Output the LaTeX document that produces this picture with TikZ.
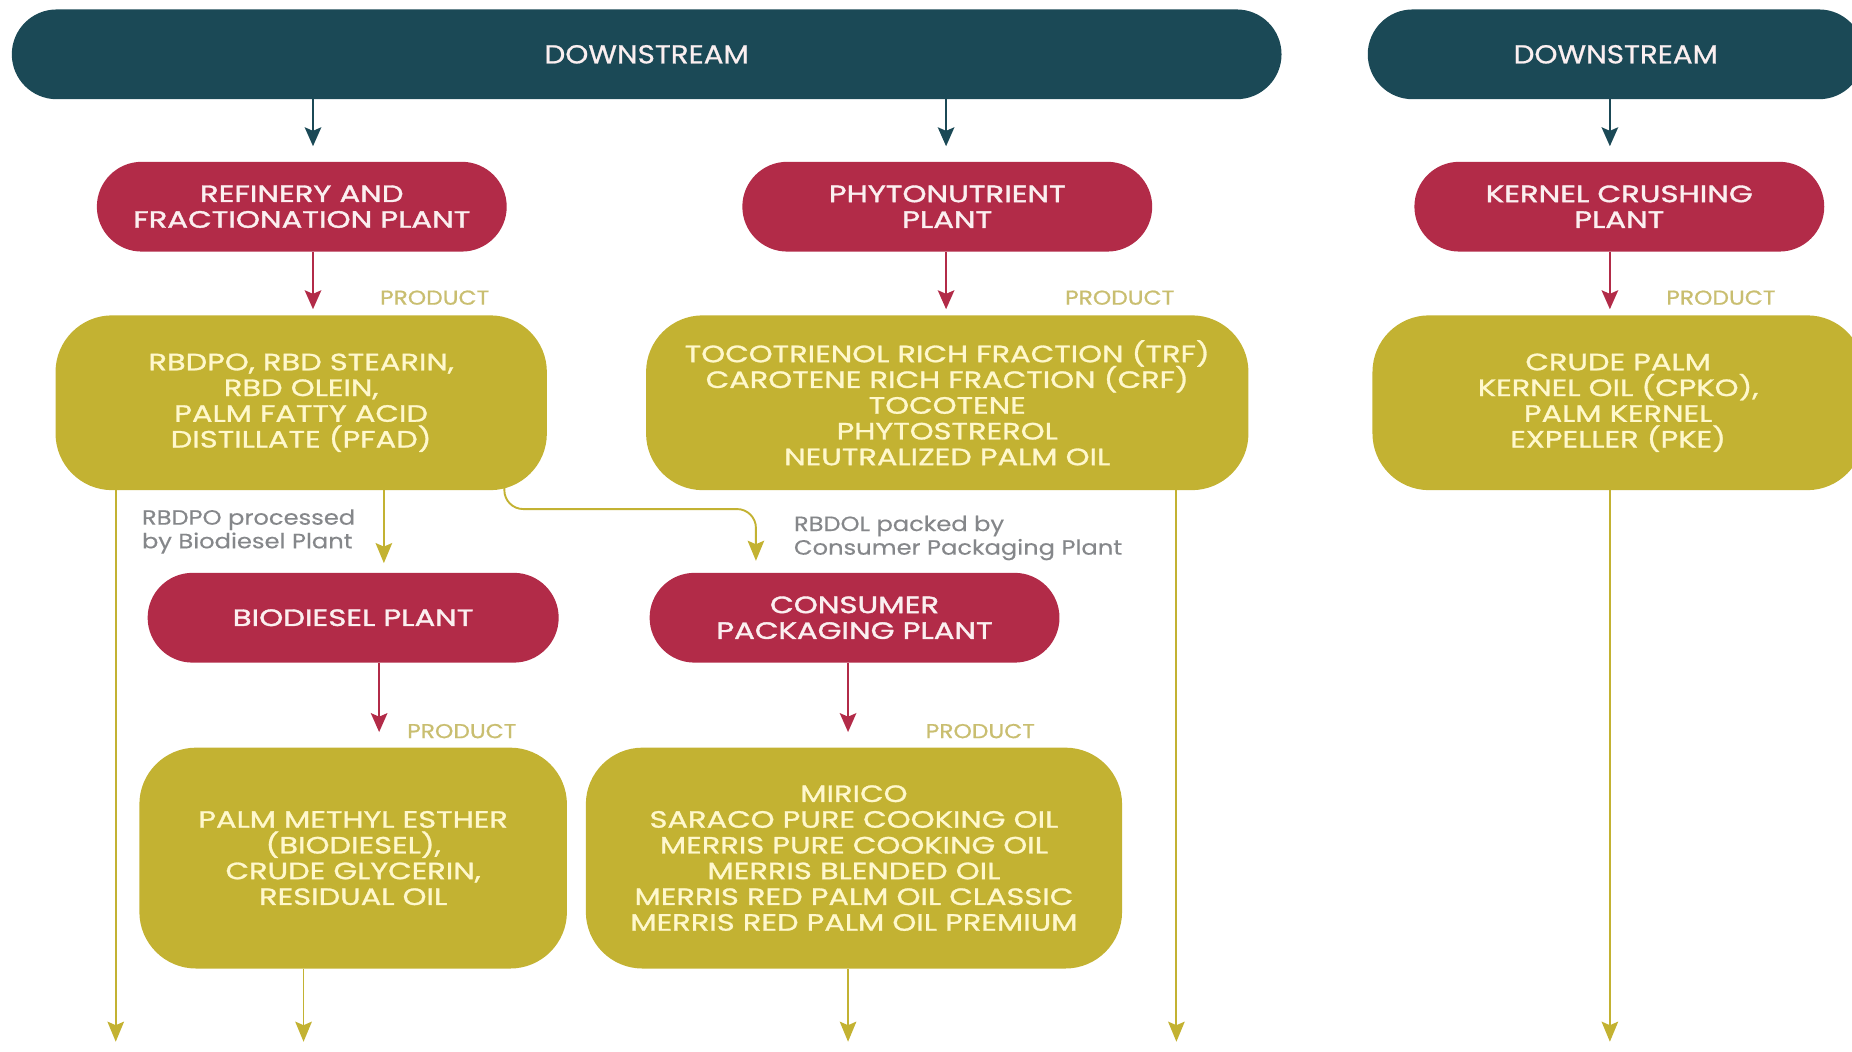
\documentclass[tikz,border=0pt]{standalone}
\usepackage{fontspec}
\setmainfont{Poppins}
\newfontfamily\fbar{Poppins}[FakeStretch=1.13,FakeBold=0.8]
\newfontfamily\fplant{Poppins}[FakeStretch=1.3,FakeBold=1.6]
\newfontfamily\fprod{Poppins}[FakeStretch=1.29,FakeBold=1.2]
\newfontfamily\flabel{Poppins}[FakeStretch=1.165,FakeBold=0.8]
\newfontfamily\fgray{Poppins}[FakeStretch=1.17,FakeBold=0.3]
\setlength{\lineskiplimit}{-100pt}
\usetikzlibrary{arrows.meta,backgrounds}
\definecolor{cTeal}{HTML}{1B4956}
\definecolor{cRed}{HTML}{B22B48}
\definecolor{cOlive}{HTML}{C3B232}
\definecolor{cProd}{HTML}{C9BE70}
\definecolor{cGray}{HTML}{85878A}
\definecolor{cCream}{HTML}{FFF8CC}
\definecolor{cPink}{HTML}{FBEFF0}
\begin{document}
\begin{tikzpicture}[x=1pt,y=-1pt,
  barbox/.style={fill=cTeal,rounded corners=38pt,minimum height=76pt,inner sep=0pt,
    text=cPink,font=\fbar\fontsize{22}{24}\selectfont},
  plantbox/.style={fill=cRed,rounded corners=38pt,minimum width=347pt,minimum height=76pt,
    inner sep=0pt,align=center,text=cPink,font=\fplant\fontsize{20}{21.8}\selectfont},
  prodbox/.style={fill=cOlive,rounded corners=48pt,inner sep=0pt,align=center,
    text=cCream,font=\fprod\fontsize{20}{21.8}\selectfont},
  prodlabel/.style={text=cProd,font=\flabel\fontsize{17}{19}\selectfont,inner sep=0pt},
  graylabel/.style={text=cGray,font=\fgray\fontsize{17.5}{20}\selectfont,align=left,inner sep=0pt,anchor=west},
  tarrow/.style={draw=cTeal,line width=1.8pt,-{Stealth[length=16pt,width=14pt,inset=3pt]}},
  rarrow/.style={draw=cRed,line width=1.8pt,-{Stealth[length=16pt,width=14pt,inset=3pt]}},
  yarrow/.style={draw=cOlive,line width=1.6pt,-{Stealth[length=17pt,width=14pt,inset=3pt]}},
]
\useasboundingbox (0,0) rectangle (1568,890);
\clip (0,0) rectangle (1568,890);

% top bars
\node[barbox,minimum width=1075pt] (bar1) at (547.5,46) {DOWNSTREAM};
\node[barbox,minimum width=420pt] (bar2) at (1368,46) {DOWNSTREAM};

% plants
\node[plantbox] (ref) at (255.5,175) {REFINERY AND\\FRACTIONATION PLANT};
\node[plantbox] (phy) at (802,175) {PHYTONUTRIENT\\PLANT};
\node[plantbox] (ker) at (1371,175) {KERNEL CRUSHING\\PLANT};

% products row 1
\node[prodbox,minimum width=416pt,minimum height=148pt] (p1) at (255,341)
  {RBDPO, RBD STEARIN,\\RBD OLEIN,\\PALM FATTY ACID\\DISTILLATE (PFAD)};
\node[prodbox,minimum width=510pt,minimum height=148pt] (p2) at (802,341)
  {TOCOTRIENOL RICH FRACTION (TRF)\\CAROTENE RICH FRACTION (CRF)\\TOCOTENE\\PHYTOSTREROL\\NEUTRALIZED PALM OIL};
\node[prodbox,minimum width=416pt,minimum height=148pt] (p3) at (1370,341)
  {CRUDE PALM\\KERNEL OIL (CPKO),\\PALM KERNEL\\EXPELLER (PKE)};

% plants row 2
\node[plantbox,minimum width=348pt] (bio) at (299,523) {BIODIESEL PLANT};
\node[plantbox] (con) at (723.5,523) {CONSUMER\\PACKAGING PLANT};

% products row 2
\node[prodbox,minimum width=362pt,minimum height=187pt] (p4) at (299,726.5)
  {PALM METHYL ESTHER\\(BIODIESEL),\\CRUDE GLYCERIN,\\RESIDUAL OIL};
\node[prodbox,minimum width=454pt,minimum height=187pt] (p5) at (723,726.5)
  {MIRICO\\SARACO PURE COOKING OIL\\MERRIS PURE COOKING OIL\\MERRIS BLENDED OIL\\MERRIS RED PALM OIL CLASSIC\\MERRIS RED PALM OIL PREMIUM};

% labels
\node[prodlabel] (l1) at (368,252) {PRODUCT};
\node[prodlabel] (l2) at (948,252) {PRODUCT};
\node[prodlabel] (l3) at (1457,252) {PRODUCT};
\node[prodlabel] (l4) at (391,619) {PRODUCT};
\node[prodlabel] (l5) at (830,619) {PRODUCT};
\node[graylabel] (g1) at (120,450) {RBDPO processed\\by Biodiesel Plant};
\node[graylabel] (g2) at (672,455.5) {RBDOL packed by\\Consumer Packaging Plant};

% free ends
\coordinate (e1) at (98,882);
\coordinate (e2) at (257,882);
\coordinate (e3) at (718,882);
\coordinate (e4) at (996,882);
\coordinate (e5) at (1363,882);

\begin{scope}[on background layer]
\draw[tarrow,shorten >=13pt] (bar1.south -| 265,0) -- (ref.north -| 265,0);
\draw[tarrow,shorten >=13pt] (bar1.south -| 801,0) -- (phy.north -| 801,0);
\draw[tarrow,shorten >=13pt] (bar2.south -| 1363,0) -- (ker.north -| 1363,0);
\draw[rarrow,shorten >=5pt] (ref.south -| 265,0) -- (p1.north -| 265,0);
\draw[rarrow,shorten >=5pt] (phy.south -| 801,0) -- (p2.north -| 801,0);
\draw[rarrow,shorten >=5pt] (ker.south -| 1363,0) -- (p3.north -| 1363,0);
\draw[rarrow,shorten >=13pt] (bio.south -| 321,0) -- (p4.north -| 321,0);
\draw[rarrow,shorten >=13pt] (con.south -| 718,0) -- (p5.north -| 718,0);
\draw[yarrow,shorten >=8pt] (p1.south -| 325,0) -- (bio.north -| 325,0);
\draw[yarrow,shorten >=10pt,rounded corners=16pt] (p1.center -| 427,0) -- (427,431) -- (640,431) -- (con.north -| 640,0);
\draw[yarrow] (p1.south -| e1) -- (e1);
\draw[yarrow] (p4.south -| e2) -- (e2);
\draw[yarrow] (p5.south -| e3) -- (e3);
\draw[yarrow] (p2.south -| e4) -- (e4);
\draw[yarrow] (p3.south -| e5) -- (e5);
\end{scope}
\end{tikzpicture}
\end{document}
